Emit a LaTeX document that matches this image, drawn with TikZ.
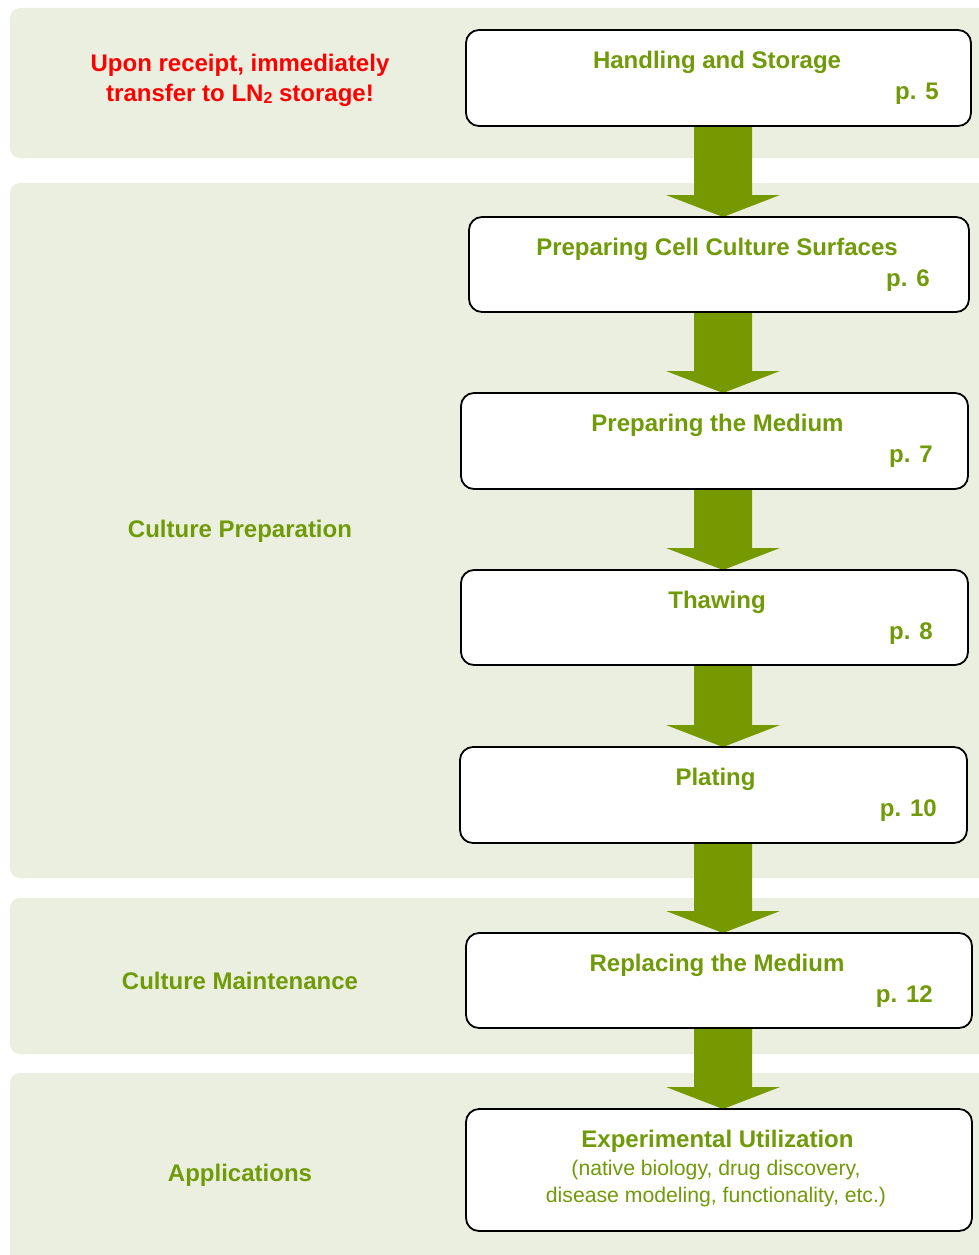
\documentclass[tikz,border=0pt]{standalone}
\usepackage{fontspec}
\setmainfont{Liberation Sans}
\usetikzlibrary{calc}
\definecolor{bandcol}{RGB}{235,239,223}
\definecolor{arrowcol}{RGB}{119,153,0}
\definecolor{txtgrn}{RGB}{112,154,8}
\definecolor{warnred}{RGB}{255,0,0}
\pgfdeclarelayer{bg}
\pgfdeclarelayer{mid}
\pgfsetlayers{bg,mid,main}
\newcommand\blockarrow[2]{%
  \begin{pgfonlayer}{mid}
  \fill[arrowcol]
    ($(ax |- #1.south)+(-29,0)$) -- ($(ax |- #1.south)+(29,0)$)
    -- ($(ax |- #2.north)+(29,-22)$) -- ($(ax |- #2.north)+(57,-22)$)
    -- (ax |- #2.north)
    -- ($(ax |- #2.north)+(-57,-22)$) -- ($(ax |- #2.north)+(-29,-22)$) -- cycle;
  \end{pgfonlayer}}
\begin{document}
\begin{tikzpicture}[x=1pt,y=-1pt,
  bandfill/.style={fill=bandcol, rounded corners=10pt},
  box/.style={draw=black, line width=1.8pt, fill=white, rounded corners=13pt,
              inner sep=0pt, outer sep=0pt},
  steptitle/.style={text=txtgrn, font=\fontsize{24}{28}\selectfont\bfseries,
              anchor=base, inner sep=0pt},
  pagenum/.style={text=txtgrn, font=\fontsize{24}{28}\selectfont\bfseries,
              anchor=base east, inner sep=0pt},
  smalltxt/.style={text=txtgrn, font=\fontsize{21.2}{25}\selectfont,
              anchor=base, inner sep=0pt},
  phase/.style={text=txtgrn, font=\fontsize{24}{28}\selectfont\bfseries,
              anchor=base, inner sep=0pt},
  warn/.style={text=warnred, font=\fontsize{24}{28}\selectfont\bfseries,
              anchor=base, inner sep=0pt}]
\useasboundingbox (0,0) rectangle (979,1255);
\clip (0,0) rectangle (979,1255);
\coordinate (ax) at (723,0);

% bands
\begin{pgfonlayer}{bg}
\fill[bandfill] (10,8) rectangle (1000,158);
\fill[bandfill] (10,183) rectangle (1000,878);
\fill[bandfill] (10,898) rectangle (1000,1054);
\fill[bandfill] (10,1073) rectangle (1000,1275);
\end{pgfonlayer}

% boxes
\node[box, minimum width=505pt, minimum height=96pt] (b1) at (718.5,78) {};
\node[box, minimum width=500pt, minimum height=95pt] (b2) at (719,264.5) {};
\node[box, minimum width=507pt, minimum height=96pt] (b3) at (714.5,441) {};
\node[box, minimum width=507pt, minimum height=95pt] (b4) at (714.5,617.5) {};
\node[box, minimum width=507pt, minimum height=96pt] (b5) at (713.5,795) {};
\node[box, minimum width=506pt, minimum height=95pt] (b6) at (719,980.5) {};
\node[box, minimum width=506pt, minimum height=122pt] (b7) at (719,1170) {};

% box texts
\node[steptitle] (t1) at (717,68.5) {Handling and Storage};
\node[pagenum] (p1) at (939,99.5) {p. 5};
\node[steptitle] (t2) at (717,255.5) {Preparing Cell Culture Surfaces};
\node[pagenum] (p2) at (930,286.5) {p. 6};
\node[steptitle] (t3) at (717.5,431.5) {Preparing the Medium};
\node[pagenum] (p3) at (933,462.5) {p. 7};
\node[steptitle] (t4) at (717,608.5) {Thawing};
\node[pagenum] (p4) at (933,639.5) {p. 8};
\node[steptitle] (t5) at (715.5,785.5) {Plating};
\node[pagenum] (p5) at (937,816.5) {p. 10};
\node[steptitle] (t6) at (717,971.5) {Replacing the Medium};
\node[pagenum] (p6) at (933,1002.5) {p. 12};
\node[steptitle] (t7) at (717.5,1147.5) {Experimental Utilization};
\node[smalltxt] (s7a) at (716,1175) {(native biology, drug discovery,};
\node[smalltxt] (s7b) at (716,1202) {disease modeling, functionality, etc.)};

% arrows
\blockarrow{b1}{b2}
\blockarrow{b2}{b3}
\blockarrow{b3}{b4}
\blockarrow{b4}{b5}
\blockarrow{b5}{b6}
\blockarrow{b6}{b7}

% left labels
\node[warn] (w1) at (240,71) {Upon receipt, immediately};
\node[warn] (w2) at (240,101) {transfer to LN{\fontsize{16}{16}\selectfont\raisebox{-2pt}{2}} storage!};
\node[phase] (ph1) at (240,537) {Culture Preparation};
\node[phase] (ph2) at (240,989) {Culture Maintenance};
\node[phase] (ph3) at (240,1181) {Applications};
\end{tikzpicture}
\end{document}
